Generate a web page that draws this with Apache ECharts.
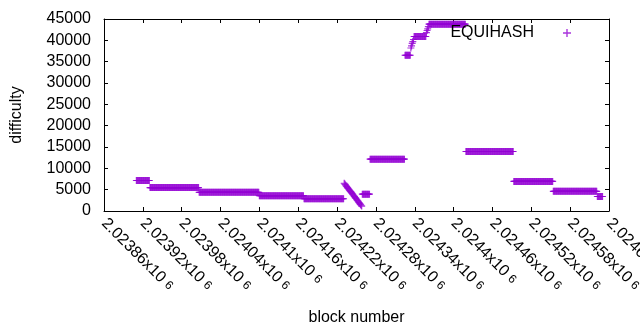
<!DOCTYPE html>
<html>
<head>
<meta charset="utf-8">
<script src="https://cdn.jsdelivr.net/npm/echarts@6/dist/echarts.min.js"></script>
<style>
	html, body { margin: 0; padding: 0; background: #fff; }
	#chart { width: 640px; height: 330px; }
</style>
</head>
<body>
<div id="chart"></div>
<script>
// x tick labels (block number / 10^6), one every 60 blocks
var tickLabels = ['2.02386', '2.02392', '2.02398', '2.02404', '2.0241', '2.02416', '2.02422',
	'2.02428', '2.02434', '2.0244', '2.02446', '2.02452', '2.02458', '2.02464'];
var yTicks = [0, 5000, 10000, 15000, 20000, 25000, 30000, 35000, 40000, 45000];

// runs of blocks that keep the same difficulty
var runStart = [2023910, 2023931, 2024007, 2024100, 2024169, 2024259, 2024271,
	2024325, 2024339, 2024362, 2024419, 2024493, 2024554, 2024622];
var runEnd = [2023930, 2024006, 2024099, 2024168, 2024230, 2024270, 2024324,
	2024333, 2024357, 2024418, 2024492, 2024553, 2024621, 2024630];
var runDifficulty = [7150, 5500, 4380, 3600, 2870, 3950, 12150,
	36500, 40900, 43780, 13950, 6920, 4620, 3400];

// single blocks in between (the drop and the two climbs)
var stepBlocks = [2024231, 2024232, 2024233, 2024234, 2024235, 2024236, 2024237,
	2024238, 2024239, 2024240, 2024241, 2024242, 2024243, 2024244,
	2024245, 2024246, 2024247, 2024248, 2024249, 2024250, 2024251,
	2024252, 2024253, 2024254, 2024255, 2024256, 2024257, 2024258,
	2024334, 2024335, 2024336, 2024337, 2024338,
	2024358, 2024359, 2024360, 2024361];
var stepDifficulty = [6500, 6300, 6100, 5900, 5700, 5500, 5300,
	5100, 4900, 4700, 4550, 4350, 4150, 3950,
	3750, 3550, 3350, 3150, 2950, 2750, 2550,
	2350, 2150, 1950, 1750, 1550, 1350, 1150,
	38200, 38700, 39300, 39700, 40200,
	41800, 42300, 42700, 43200];

var xMin = 2023860;
var xStep = 60;
var plus = 'path://M2.9,0L4.1,0L4.1,2.9L7,2.9L7,4.1L4.1,4.1L4.1,7L2.9,7L2.9,4.1L0,4.1L0,2.9L2.9,2.9Z';
var font = 'Liberation Sans, Arial, sans-serif';

var points = [];
for (var i = 0; i < runStart.length; i++) {
	for (var b = runStart[i]; b <= runEnd[i]; b++) {
		points.push([b, runDifficulty[i]]);
	}
}
for (var j = 0; j < stepBlocks.length; j++) {
	points.push([stepBlocks[j], stepDifficulty[j]]);
}

var chart = echarts.init(document.getElementById('chart'), null, { renderer: 'canvas' });

var lineStyle = { color: '#000', width: 1 };

chart.setOption({
	animation: false,
	grid: { left: 104, right: 31, top: 19, bottom: 119, containLabel: false, outerBoundsMode: 'none' },
	legend: {
		right: 69,
		top: 25,
		padding: 0,
		align: 'right',
		itemWidth: 8,
		itemHeight: 8,
		textStyle: { fontFamily: font, fontSize: 16, color: '#000', padding: [0, 24, 0, 0] },
		data: [{ name: 'EQUIHASH', icon: plus }]
	},
	xAxis: [{
		type: 'value',
		position: 'bottom',
		min: xMin,
		max: xMin + xStep * (tickLabels.length - 1),
		interval: xStep,
		name: 'block number',
		nameLocation: 'middle',
		nameGap: 99,
		nameTextStyle: { fontFamily: font, fontSize: 16, color: '#000' },
		axisLine: { show: true, onZero: false, lineStyle: lineStyle },
		axisTick: { show: true, inside: true, length: 4, lineStyle: lineStyle },
		splitLine: { show: false },
		axisLabel: {
			rotate: -45,
			margin: 10,
			showMaxLabel: true,
			showMinLabel: true,
			hideOverlap: false,
			fontFamily: font,
			fontSize: 16,
			color: '#000',
			formatter: function(v) {
				var k = Math.round((v - xMin) / xStep);
				return tickLabels[k] + 'x10 {s|6}';
			},
			rich: { s: { fontFamily: font, fontSize: 12, color: '#000' } }
		}
	}, {
		type: 'value',
		position: 'top',
		min: xMin,
		max: xMin + xStep * (tickLabels.length - 1),
		interval: xStep,
		axisLine: { show: true, onZero: false, lineStyle: lineStyle },
		axisTick: { show: true, inside: true, length: 4, lineStyle: lineStyle },
		splitLine: { show: false },
		axisLabel: { show: false }
	}],
	yAxis: [{
		type: 'value',
		position: 'left',
		min: yTicks[0],
		max: yTicks[yTicks.length - 1],
		interval: yTicks[1] - yTicks[0],
		name: 'difficulty',
		nameLocation: 'middle',
		nameGap: 79,
		nameTextStyle: { fontFamily: font, fontSize: 16, color: '#000' },
		axisLine: { show: true, onZero: false, lineStyle: lineStyle },
		axisTick: { show: true, inside: true, length: 4, lineStyle: lineStyle },
		splitLine: { show: false },
		axisLabel: {
			margin: 13, fontFamily: font, fontSize: 16, color: '#000',
			formatter: function(v) { return String(v); }
		}
	}, {
		type: 'value',
		position: 'right',
		min: yTicks[0],
		max: yTicks[yTicks.length - 1],
		interval: yTicks[1] - yTicks[0],
		axisLine: { show: true, onZero: false, lineStyle: lineStyle },
		axisTick: { show: true, inside: true, length: 4, lineStyle: lineStyle },
		splitLine: { show: false },
		axisLabel: { show: false }
	}],
	series: [{
		name: 'EQUIHASH',
		type: 'scatter',
		large: false,
		symbol: plus,
		symbolSize: 7,
		itemStyle: { color: '#9400d3' },
		emphasis: { disabled: true },
		data: points
	}]
});
</script>
</body>
</html>
